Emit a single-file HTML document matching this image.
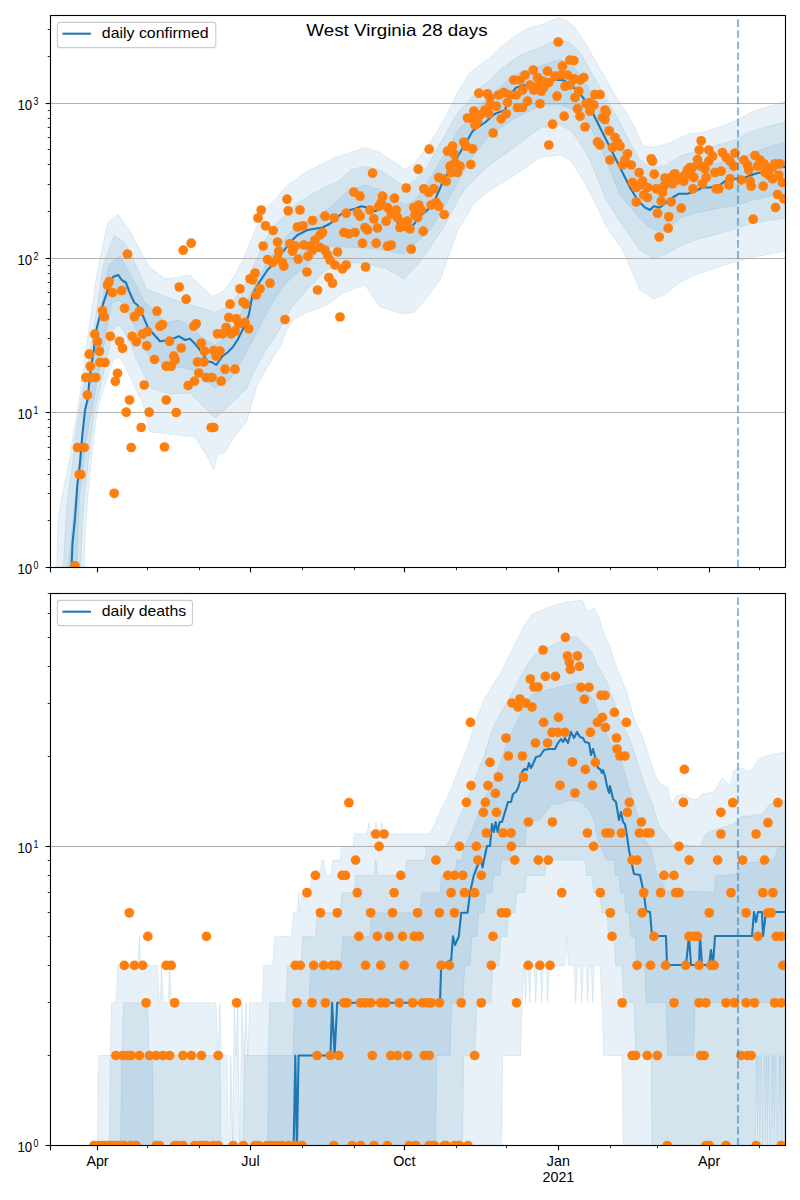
<!DOCTYPE html><html><head><meta charset="utf-8"><style>html,body{margin:0;padding:0;background:#fff;overflow:hidden}svg{display:block}</style></head><body><svg width="800" height="1200" viewBox="0 0 800 1200">
<rect width="800" height="1200" fill="#fff"/>
<clipPath id="cliptop"><rect x="50.5" y="15.5" width="735.0" height="552.0"/></clipPath>
<g clip-path="url(#cliptop)">
<polygon points="56.7,600.0 56.7,566.7 58.0,520.0 62.5,493.3 66.7,473.3 70.0,458.3 73.3,433.3 76.7,413.3 79.2,400.0 88.3,333.3 96.7,275.0 107.9,222.5 117.9,214.2 130.0,230.8 142.9,255.8 150.0,267.5 165.0,278.8 175.0,277.5 190.0,275.0 200.0,285.0 212.5,296.2 225.0,290.0 235.0,275.0 245.0,255.0 255.0,230.0 265.0,210.0 275.0,200.0 285.0,187.5 295.0,180.0 305.0,172.5 320.0,165.0 335.0,157.5 350.0,152.5 365.0,147.5 380.0,152.5 395.0,162.5 405.0,170.0 415.0,162.5 425.0,150.0 435.0,135.0 445.0,117.5 457.5,92.5 470.0,72.5 480.0,65.0 490.0,57.5 500.0,47.5 510.0,40.0 520.0,32.5 530.0,27.5 540.0,25.0 550.0,21.2 558.8,17.5 567.5,21.2 575.0,27.5 585.0,42.5 595.0,60.0 605.0,77.5 615.0,95.0 625.0,110.0 635.0,127.5 642.5,145.0 650.0,147.5 660.0,146.0 670.0,142.5 680.0,138.0 690.0,133.0 700.0,133.0 710.0,130.0 720.0,127.0 735.0,121.0 750.0,113.0 760.0,109.0 770.0,106.0 786.0,101.0 800.0,101.0 800.0,251.0 786.0,251.0 765.0,255.0 750.0,258.0 735.0,262.0 725.0,265.0 710.0,270.0 695.0,275.0 680.0,282.5 664.5,295.0 654.0,299.0 640.0,290.0 622.5,250.0 605.0,224.0 594.5,201.0 580.0,175.0 570.0,160.0 560.0,155.0 540.0,157.5 515.0,175.0 490.0,190.0 473.0,205.0 458.0,230.0 440.0,280.0 425.0,300.0 415.0,312.0 404.0,314.0 380.0,307.0 365.0,285.0 345.0,292.0 325.0,306.0 305.0,313.0 293.0,320.0 287.0,330.0 280.0,347.0 270.0,363.0 257.0,385.0 247.0,421.0 232.0,440.0 225.0,452.0 217.5,455.0 213.8,470.0 207.5,457.0 200.0,445.0 195.0,437.0 170.0,434.0 150.0,432.0 141.7,400.0 136.7,391.7 130.0,376.7 123.3,363.3 118.3,356.7 113.3,360.0 100.0,400.0 95.8,420.0 92.5,450.0 90.0,473.3 88.3,491.7 84.6,543.3 84.6,600.0" fill="#1f77b4" fill-opacity="0.1" stroke="#1f77b4" stroke-opacity="0.1" stroke-width="1"/>
<polygon points="63.3,600.0 63.3,566.7 65.8,520.0 68.3,493.3 71.7,470.0 75.8,433.3 80.0,406.7 93.3,333.3 103.3,265.0 114.2,235.4 125.0,242.9 135.0,263.3 146.7,289.2 175.0,300.0 200.0,307.5 215.0,312.5 230.0,305.0 245.0,285.0 255.0,262.5 265.0,240.0 275.0,225.0 285.0,215.0 295.0,205.0 310.0,195.0 325.0,187.5 340.0,180.0 350.0,170.0 365.0,166.2 380.0,170.0 395.0,180.0 405.0,186.2 415.0,180.0 425.0,170.0 435.0,152.5 445.0,135.0 457.5,112.5 467.5,102.5 480.0,87.5 490.0,80.0 500.0,70.0 510.0,62.5 520.0,55.0 530.0,51.2 540.0,47.5 550.0,42.5 560.0,40.0 570.0,42.5 580.0,52.5 590.0,70.0 600.0,87.5 610.0,105.0 620.0,122.5 630.0,142.5 640.0,160.0 650.0,167.5 665.0,166.0 680.0,156.0 695.0,152.0 710.0,147.0 725.0,143.0 735.0,139.5 750.0,132.0 765.0,127.0 786.0,122.0 800.0,122.0 800.0,218.0 786.0,218.0 765.0,221.0 750.0,224.0 735.0,229.0 725.0,232.0 710.0,236.0 695.0,240.0 680.0,246.0 664.5,255.0 654.0,259.0 640.0,250.0 620.0,222.0 605.0,197.5 590.0,160.0 580.0,142.5 570.0,130.0 560.0,125.0 540.0,128.0 515.0,147.0 490.0,165.0 470.0,183.0 461.0,195.0 442.0,230.0 417.5,265.0 404.0,279.0 385.0,268.0 365.0,263.5 345.0,262.0 325.0,271.0 305.0,292.0 292.0,307.0 283.0,323.0 273.0,340.0 263.0,355.0 253.0,374.0 247.0,388.0 230.0,405.0 215.0,418.0 190.0,393.0 170.0,394.0 150.0,388.0 143.3,373.0 136.7,360.0 130.0,343.0 123.3,330.0 118.3,325.0 113.3,330.0 94.2,413.3 90.8,438.3 86.7,475.0 82.5,520.0 80.8,566.7 80.8,600.0" fill="#1f77b4" fill-opacity="0.1" stroke="#1f77b4" stroke-opacity="0.1" stroke-width="1"/>
<polygon points="68.3,600.0 68.3,566.7 75.0,500.0 80.8,441.7 98.3,325.0 108.3,265.8 120.0,255.8 133.3,279.2 143.3,300.0 165.0,322.5 180.0,320.0 195.0,330.0 205.0,340.0 215.0,345.0 225.0,337.5 235.0,325.0 250.0,295.0 260.0,275.0 270.0,257.5 280.0,245.0 290.0,232.5 300.0,225.0 315.0,217.5 330.0,207.5 347.5,191.2 365.0,185.0 380.0,190.0 395.0,200.0 405.0,205.0 415.0,200.0 425.0,187.5 435.0,170.0 445.0,152.5 457.5,131.2 467.5,120.0 480.0,105.0 490.0,95.0 500.0,87.5 510.0,77.5 520.0,72.5 530.0,68.8 540.0,66.2 550.0,62.5 560.0,60.0 570.0,62.5 580.0,75.0 590.0,90.0 600.0,107.5 610.0,125.0 620.0,142.5 630.0,162.5 640.0,175.0 650.0,180.0 665.0,180.0 680.0,173.0 695.0,168.0 710.0,165.0 725.0,162.0 735.0,160.0 750.0,154.0 765.0,148.0 786.0,142.0 800.0,142.0 800.0,193.6 786.0,193.6 765.0,197.0 750.0,201.0 735.0,205.5 725.0,207.0 710.0,210.0 695.0,213.0 680.0,218.0 664.5,232.0 650.0,228.0 640.0,218.5 620.0,195.0 605.0,158.0 592.0,130.0 580.0,113.0 560.0,104.0 540.0,106.0 515.0,118.0 490.0,135.0 470.0,160.0 451.0,195.0 430.0,230.0 404.0,254.0 385.0,250.0 365.0,248.0 345.0,247.0 322.0,246.0 305.0,268.0 293.0,276.0 283.0,287.0 273.0,302.0 263.0,320.0 253.0,340.0 240.0,363.0 230.0,380.0 215.0,388.0 190.0,369.0 170.0,366.0 150.0,358.0 143.3,343.3 136.7,331.7 130.0,316.7 123.3,303.3 118.3,300.0 111.7,303.3 85.8,441.7 79.2,500.0 76.7,566.7 76.7,600.0" fill="#1f77b4" fill-opacity="0.1" stroke="#1f77b4" stroke-opacity="0.1" stroke-width="1"/>
<line x1="50.5" x2="785.5" y1="412.50" y2="412.50" stroke="#b0b0b0" stroke-width="1.0"/>
<line x1="50.5" x2="785.5" y1="258.50" y2="258.50" stroke="#b0b0b0" stroke-width="1.0"/>
<line x1="50.5" x2="785.5" y1="103.50" y2="103.50" stroke="#b0b0b0" stroke-width="1.0"/>
<polyline points="71.0,580.0 72.5,543.3 75.0,518.3 77.5,483.3 80.0,463.3 82.5,433.3 85.0,410.0 87.5,400.0 90.0,375.0 93.7,350.0 96.7,328.3 100.0,315.0 103.3,303.3 106.7,293.3 110.0,281.7 113.3,276.7 118.3,275.0 121.7,280.0 125.8,282.5 130.0,293.3 134.2,302.5 137.5,305.0 143.3,316.7 148.3,328.3 160.0,341.2 170.0,340.0 178.8,336.2 185.0,340.0 190.0,338.8 195.0,343.8 200.0,350.0 207.5,361.2 212.5,362.5 216.2,365.0 222.5,356.2 227.5,352.5 232.5,347.5 237.5,340.0 242.5,330.0 248.8,315.0 252.5,295.0 257.5,285.0 262.5,277.5 267.5,270.0 275.0,262.5 282.5,252.5 290.0,242.5 297.5,235.0 307.5,230.0 315.0,228.8 322.5,227.5 330.0,223.8 340.0,215.0 347.5,210.0 350.0,210.0 355.0,208.8 361.2,206.2 367.5,207.5 375.0,211.2 382.5,207.5 390.0,212.5 397.5,222.5 403.8,230.0 412.5,226.2 420.0,216.2 427.5,210.0 435.0,200.0 442.5,182.5 452.5,165.0 460.0,152.5 467.5,140.0 472.5,131.2 477.5,127.5 485.0,122.5 495.0,113.8 505.0,110.0 510.0,95.0 516.2,87.5 525.0,85.0 535.0,85.0 545.0,82.5 555.0,80.0 562.5,80.0 570.0,83.8 577.5,91.2 585.0,100.0 592.5,112.5 600.0,127.5 607.5,142.5 615.0,157.5 622.5,172.5 630.0,187.5 637.5,200.0 645.0,207.5 650.0,210.0 653.8,206.2 660.0,207.5 666.2,202.5 672.5,197.5 678.8,193.8 687.5,193.8 695.0,191.2 702.5,187.5 710.0,187.5 720.0,185.0 725.0,181.2 735.0,178.8 745.0,177.5 755.0,173.8 765.0,171.2 775.0,167.5 785.0,167.0" fill="none" stroke="#1f77b4" stroke-width="2.08" stroke-linejoin="round"/>
<circle cx="127.5" cy="254.2" r="4.85" fill="#ff7f0e"/>
<circle cx="109.2" cy="281.7" r="4.85" fill="#ff7f0e"/>
<circle cx="107.5" cy="285.0" r="4.85" fill="#ff7f0e"/>
<circle cx="112.5" cy="292.5" r="4.85" fill="#ff7f0e"/>
<circle cx="121.7" cy="290.5" r="4.85" fill="#ff7f0e"/>
<circle cx="102.5" cy="310.8" r="4.85" fill="#ff7f0e"/>
<circle cx="104.2" cy="316.7" r="4.85" fill="#ff7f0e"/>
<circle cx="124.5" cy="308.3" r="4.85" fill="#ff7f0e"/>
<circle cx="139.5" cy="311.3" r="4.85" fill="#ff7f0e"/>
<circle cx="134.5" cy="316.7" r="4.85" fill="#ff7f0e"/>
<circle cx="94.7" cy="334.2" r="4.85" fill="#ff7f0e"/>
<circle cx="97.5" cy="341.7" r="4.85" fill="#ff7f0e"/>
<circle cx="110.3" cy="336.3" r="4.85" fill="#ff7f0e"/>
<circle cx="119.5" cy="341.3" r="4.85" fill="#ff7f0e"/>
<circle cx="122.5" cy="348.3" r="4.85" fill="#ff7f0e"/>
<circle cx="132.2" cy="336.3" r="4.85" fill="#ff7f0e"/>
<circle cx="136.3" cy="341.7" r="4.85" fill="#ff7f0e"/>
<circle cx="142.5" cy="334.2" r="4.85" fill="#ff7f0e"/>
<circle cx="147.5" cy="331.7" r="4.85" fill="#ff7f0e"/>
<circle cx="146.7" cy="345.8" r="4.85" fill="#ff7f0e"/>
<circle cx="89.2" cy="354.2" r="4.85" fill="#ff7f0e"/>
<circle cx="99.5" cy="351.3" r="4.85" fill="#ff7f0e"/>
<circle cx="90.3" cy="366.3" r="4.85" fill="#ff7f0e"/>
<circle cx="100.0" cy="362.5" r="4.85" fill="#ff7f0e"/>
<circle cx="105.0" cy="362.5" r="4.85" fill="#ff7f0e"/>
<circle cx="85.8" cy="377.5" r="4.85" fill="#ff7f0e"/>
<circle cx="90.8" cy="377.5" r="4.85" fill="#ff7f0e"/>
<circle cx="95.8" cy="377.5" r="4.85" fill="#ff7f0e"/>
<circle cx="117.5" cy="373.3" r="4.85" fill="#ff7f0e"/>
<circle cx="115.3" cy="381.3" r="4.85" fill="#ff7f0e"/>
<circle cx="144.2" cy="385.0" r="4.85" fill="#ff7f0e"/>
<circle cx="87.5" cy="395.0" r="4.85" fill="#ff7f0e"/>
<circle cx="129.5" cy="400.0" r="4.85" fill="#ff7f0e"/>
<circle cx="75.0" cy="565.8" r="4.85" fill="#ff7f0e"/>
<circle cx="77.5" cy="447.5" r="4.85" fill="#ff7f0e"/>
<circle cx="84.2" cy="447.5" r="4.85" fill="#ff7f0e"/>
<circle cx="79.2" cy="474.5" r="4.85" fill="#ff7f0e"/>
<circle cx="80.8" cy="474.5" r="4.85" fill="#ff7f0e"/>
<circle cx="114.2" cy="493.3" r="4.85" fill="#ff7f0e"/>
<circle cx="131.2" cy="447.5" r="4.85" fill="#ff7f0e"/>
<circle cx="141.2" cy="427.5" r="4.85" fill="#ff7f0e"/>
<circle cx="126.2" cy="412.2" r="4.85" fill="#ff7f0e"/>
<circle cx="149.2" cy="412.2" r="4.85" fill="#ff7f0e"/>
<circle cx="287.0" cy="199.2" r="4.85" fill="#ff7f0e"/>
<circle cx="261.2" cy="210.0" r="4.85" fill="#ff7f0e"/>
<circle cx="258.0" cy="218.0" r="4.85" fill="#ff7f0e"/>
<circle cx="288.2" cy="210.8" r="4.85" fill="#ff7f0e"/>
<circle cx="300.0" cy="210.0" r="4.85" fill="#ff7f0e"/>
<circle cx="325.0" cy="216.2" r="4.85" fill="#ff7f0e"/>
<circle cx="334.2" cy="218.0" r="4.85" fill="#ff7f0e"/>
<circle cx="346.2" cy="213.2" r="4.85" fill="#ff7f0e"/>
<circle cx="312.5" cy="220.5" r="4.85" fill="#ff7f0e"/>
<circle cx="265.5" cy="225.8" r="4.85" fill="#ff7f0e"/>
<circle cx="273.2" cy="230.5" r="4.85" fill="#ff7f0e"/>
<circle cx="297.5" cy="227.0" r="4.85" fill="#ff7f0e"/>
<circle cx="303.0" cy="225.8" r="4.85" fill="#ff7f0e"/>
<circle cx="191.2" cy="243.2" r="4.85" fill="#ff7f0e"/>
<circle cx="183.2" cy="250.2" r="4.85" fill="#ff7f0e"/>
<circle cx="263.2" cy="246.0" r="4.85" fill="#ff7f0e"/>
<circle cx="277.5" cy="242.0" r="4.85" fill="#ff7f0e"/>
<circle cx="278.8" cy="251.2" r="4.85" fill="#ff7f0e"/>
<circle cx="290.0" cy="243.8" r="4.85" fill="#ff7f0e"/>
<circle cx="295.0" cy="246.2" r="4.85" fill="#ff7f0e"/>
<circle cx="292.5" cy="251.2" r="4.85" fill="#ff7f0e"/>
<circle cx="303.8" cy="245.0" r="4.85" fill="#ff7f0e"/>
<circle cx="310.0" cy="246.2" r="4.85" fill="#ff7f0e"/>
<circle cx="315.0" cy="240.0" r="4.85" fill="#ff7f0e"/>
<circle cx="320.0" cy="235.0" r="4.85" fill="#ff7f0e"/>
<circle cx="322.5" cy="232.5" r="4.85" fill="#ff7f0e"/>
<circle cx="312.5" cy="250.0" r="4.85" fill="#ff7f0e"/>
<circle cx="320.0" cy="247.5" r="4.85" fill="#ff7f0e"/>
<circle cx="325.0" cy="250.0" r="4.85" fill="#ff7f0e"/>
<circle cx="327.5" cy="255.0" r="4.85" fill="#ff7f0e"/>
<circle cx="337.5" cy="252.0" r="4.85" fill="#ff7f0e"/>
<circle cx="343.8" cy="232.5" r="4.85" fill="#ff7f0e"/>
<circle cx="348.8" cy="233.8" r="4.85" fill="#ff7f0e"/>
<circle cx="267.5" cy="259.5" r="4.85" fill="#ff7f0e"/>
<circle cx="272.5" cy="262.5" r="4.85" fill="#ff7f0e"/>
<circle cx="277.5" cy="258.8" r="4.85" fill="#ff7f0e"/>
<circle cx="282.5" cy="262.5" r="4.85" fill="#ff7f0e"/>
<circle cx="283.8" cy="266.2" r="4.85" fill="#ff7f0e"/>
<circle cx="298.2" cy="259.2" r="4.85" fill="#ff7f0e"/>
<circle cx="308.0" cy="256.2" r="4.85" fill="#ff7f0e"/>
<circle cx="330.0" cy="260.0" r="4.85" fill="#ff7f0e"/>
<circle cx="335.0" cy="265.0" r="4.85" fill="#ff7f0e"/>
<circle cx="342.5" cy="268.8" r="4.85" fill="#ff7f0e"/>
<circle cx="346.2" cy="265.0" r="4.85" fill="#ff7f0e"/>
<circle cx="307.0" cy="272.0" r="4.85" fill="#ff7f0e"/>
<circle cx="255.0" cy="273.0" r="4.85" fill="#ff7f0e"/>
<circle cx="250.0" cy="278.8" r="4.85" fill="#ff7f0e"/>
<circle cx="252.5" cy="280.0" r="4.85" fill="#ff7f0e"/>
<circle cx="270.0" cy="283.2" r="4.85" fill="#ff7f0e"/>
<circle cx="328.8" cy="277.5" r="4.85" fill="#ff7f0e"/>
<circle cx="332.5" cy="283.2" r="4.85" fill="#ff7f0e"/>
<circle cx="317.5" cy="290.0" r="4.85" fill="#ff7f0e"/>
<circle cx="179.2" cy="287.0" r="4.85" fill="#ff7f0e"/>
<circle cx="186.2" cy="299.2" r="4.85" fill="#ff7f0e"/>
<circle cx="240.0" cy="288.8" r="4.85" fill="#ff7f0e"/>
<circle cx="260.0" cy="288.8" r="4.85" fill="#ff7f0e"/>
<circle cx="256.2" cy="295.0" r="4.85" fill="#ff7f0e"/>
<circle cx="230.0" cy="304.2" r="4.85" fill="#ff7f0e"/>
<circle cx="243.0" cy="302.0" r="4.85" fill="#ff7f0e"/>
<circle cx="245.5" cy="304.2" r="4.85" fill="#ff7f0e"/>
<circle cx="157.0" cy="311.2" r="4.85" fill="#ff7f0e"/>
<circle cx="160.0" cy="326.2" r="4.85" fill="#ff7f0e"/>
<circle cx="162.5" cy="324.5" r="4.85" fill="#ff7f0e"/>
<circle cx="193.8" cy="326.2" r="4.85" fill="#ff7f0e"/>
<circle cx="196.2" cy="323.8" r="4.85" fill="#ff7f0e"/>
<circle cx="169.5" cy="341.2" r="4.85" fill="#ff7f0e"/>
<circle cx="181.2" cy="348.0" r="4.85" fill="#ff7f0e"/>
<circle cx="201.2" cy="343.0" r="4.85" fill="#ff7f0e"/>
<circle cx="204.5" cy="351.2" r="4.85" fill="#ff7f0e"/>
<circle cx="213.8" cy="350.5" r="4.85" fill="#ff7f0e"/>
<circle cx="220.0" cy="351.2" r="4.85" fill="#ff7f0e"/>
<circle cx="216.2" cy="356.2" r="4.85" fill="#ff7f0e"/>
<circle cx="154.5" cy="359.5" r="4.85" fill="#ff7f0e"/>
<circle cx="173.8" cy="356.2" r="4.85" fill="#ff7f0e"/>
<circle cx="175.0" cy="360.0" r="4.85" fill="#ff7f0e"/>
<circle cx="166.2" cy="366.2" r="4.85" fill="#ff7f0e"/>
<circle cx="171.2" cy="366.2" r="4.85" fill="#ff7f0e"/>
<circle cx="197.5" cy="362.0" r="4.85" fill="#ff7f0e"/>
<circle cx="203.8" cy="362.0" r="4.85" fill="#ff7f0e"/>
<circle cx="225.0" cy="369.2" r="4.85" fill="#ff7f0e"/>
<circle cx="235.0" cy="369.2" r="4.85" fill="#ff7f0e"/>
<circle cx="198.8" cy="373.0" r="4.85" fill="#ff7f0e"/>
<circle cx="206.2" cy="377.5" r="4.85" fill="#ff7f0e"/>
<circle cx="212.0" cy="377.5" r="4.85" fill="#ff7f0e"/>
<circle cx="194.5" cy="381.2" r="4.85" fill="#ff7f0e"/>
<circle cx="188.2" cy="385.5" r="4.85" fill="#ff7f0e"/>
<circle cx="221.2" cy="381.2" r="4.85" fill="#ff7f0e"/>
<circle cx="166.2" cy="400.0" r="4.85" fill="#ff7f0e"/>
<circle cx="176.2" cy="412.5" r="4.85" fill="#ff7f0e"/>
<circle cx="211.2" cy="427.5" r="4.85" fill="#ff7f0e"/>
<circle cx="213.8" cy="427.5" r="4.85" fill="#ff7f0e"/>
<circle cx="164.5" cy="447.0" r="4.85" fill="#ff7f0e"/>
<circle cx="217.5" cy="333.8" r="4.85" fill="#ff7f0e"/>
<circle cx="222.5" cy="333.8" r="4.85" fill="#ff7f0e"/>
<circle cx="226.2" cy="327.5" r="4.85" fill="#ff7f0e"/>
<circle cx="231.2" cy="333.8" r="4.85" fill="#ff7f0e"/>
<circle cx="235.0" cy="331.2" r="4.85" fill="#ff7f0e"/>
<circle cx="228.8" cy="317.5" r="4.85" fill="#ff7f0e"/>
<circle cx="236.2" cy="318.8" r="4.85" fill="#ff7f0e"/>
<circle cx="238.8" cy="323.8" r="4.85" fill="#ff7f0e"/>
<circle cx="245.0" cy="322.5" r="4.85" fill="#ff7f0e"/>
<circle cx="248.8" cy="328.8" r="4.85" fill="#ff7f0e"/>
<circle cx="285.0" cy="319.5" r="4.85" fill="#ff7f0e"/>
<circle cx="340.0" cy="317.0" r="4.85" fill="#ff7f0e"/>
<circle cx="429.2" cy="149.2" r="4.85" fill="#ff7f0e"/>
<circle cx="418.2" cy="169.2" r="4.85" fill="#ff7f0e"/>
<circle cx="372.5" cy="173.2" r="4.85" fill="#ff7f0e"/>
<circle cx="406.2" cy="188.0" r="4.85" fill="#ff7f0e"/>
<circle cx="353.8" cy="192.0" r="4.85" fill="#ff7f0e"/>
<circle cx="360.0" cy="196.2" r="4.85" fill="#ff7f0e"/>
<circle cx="382.5" cy="196.2" r="4.85" fill="#ff7f0e"/>
<circle cx="381.2" cy="202.5" r="4.85" fill="#ff7f0e"/>
<circle cx="378.8" cy="206.2" r="4.85" fill="#ff7f0e"/>
<circle cx="394.5" cy="198.2" r="4.85" fill="#ff7f0e"/>
<circle cx="370.0" cy="210.0" r="4.85" fill="#ff7f0e"/>
<circle cx="357.5" cy="212.5" r="4.85" fill="#ff7f0e"/>
<circle cx="360.0" cy="216.2" r="4.85" fill="#ff7f0e"/>
<circle cx="387.5" cy="207.5" r="4.85" fill="#ff7f0e"/>
<circle cx="396.2" cy="210.0" r="4.85" fill="#ff7f0e"/>
<circle cx="391.2" cy="213.8" r="4.85" fill="#ff7f0e"/>
<circle cx="373.8" cy="218.8" r="4.85" fill="#ff7f0e"/>
<circle cx="377.5" cy="228.0" r="4.85" fill="#ff7f0e"/>
<circle cx="365.0" cy="227.5" r="4.85" fill="#ff7f0e"/>
<circle cx="367.5" cy="230.0" r="4.85" fill="#ff7f0e"/>
<circle cx="355.0" cy="232.5" r="4.85" fill="#ff7f0e"/>
<circle cx="386.2" cy="221.2" r="4.85" fill="#ff7f0e"/>
<circle cx="397.5" cy="217.5" r="4.85" fill="#ff7f0e"/>
<circle cx="402.5" cy="222.5" r="4.85" fill="#ff7f0e"/>
<circle cx="400.0" cy="227.5" r="4.85" fill="#ff7f0e"/>
<circle cx="403.8" cy="226.2" r="4.85" fill="#ff7f0e"/>
<circle cx="407.5" cy="221.2" r="4.85" fill="#ff7f0e"/>
<circle cx="410.0" cy="228.8" r="4.85" fill="#ff7f0e"/>
<circle cx="413.8" cy="207.5" r="4.85" fill="#ff7f0e"/>
<circle cx="418.8" cy="205.0" r="4.85" fill="#ff7f0e"/>
<circle cx="421.2" cy="210.0" r="4.85" fill="#ff7f0e"/>
<circle cx="415.0" cy="215.0" r="4.85" fill="#ff7f0e"/>
<circle cx="417.5" cy="217.5" r="4.85" fill="#ff7f0e"/>
<circle cx="423.8" cy="188.8" r="4.85" fill="#ff7f0e"/>
<circle cx="428.8" cy="192.5" r="4.85" fill="#ff7f0e"/>
<circle cx="433.8" cy="188.8" r="4.85" fill="#ff7f0e"/>
<circle cx="431.2" cy="205.0" r="4.85" fill="#ff7f0e"/>
<circle cx="436.2" cy="202.5" r="4.85" fill="#ff7f0e"/>
<circle cx="438.8" cy="206.2" r="4.85" fill="#ff7f0e"/>
<circle cx="444.2" cy="214.5" r="4.85" fill="#ff7f0e"/>
<circle cx="423.2" cy="231.2" r="4.85" fill="#ff7f0e"/>
<circle cx="362.5" cy="243.2" r="4.85" fill="#ff7f0e"/>
<circle cx="376.2" cy="243.2" r="4.85" fill="#ff7f0e"/>
<circle cx="387.5" cy="246.2" r="4.85" fill="#ff7f0e"/>
<circle cx="391.2" cy="245.0" r="4.85" fill="#ff7f0e"/>
<circle cx="411.2" cy="249.2" r="4.85" fill="#ff7f0e"/>
<circle cx="365.5" cy="267.0" r="4.85" fill="#ff7f0e"/>
<circle cx="438.8" cy="177.5" r="4.85" fill="#ff7f0e"/>
<circle cx="442.5" cy="178.8" r="4.85" fill="#ff7f0e"/>
<circle cx="446.2" cy="181.2" r="4.85" fill="#ff7f0e"/>
<circle cx="447.5" cy="151.2" r="4.85" fill="#ff7f0e"/>
<circle cx="452.5" cy="146.2" r="4.85" fill="#ff7f0e"/>
<circle cx="453.8" cy="153.8" r="4.85" fill="#ff7f0e"/>
<circle cx="450.0" cy="166.2" r="4.85" fill="#ff7f0e"/>
<circle cx="455.0" cy="162.5" r="4.85" fill="#ff7f0e"/>
<circle cx="460.0" cy="166.2" r="4.85" fill="#ff7f0e"/>
<circle cx="457.5" cy="172.5" r="4.85" fill="#ff7f0e"/>
<circle cx="451.2" cy="172.5" r="4.85" fill="#ff7f0e"/>
<circle cx="470.8" cy="164.5" r="4.85" fill="#ff7f0e"/>
<circle cx="463.8" cy="142.0" r="4.85" fill="#ff7f0e"/>
<circle cx="466.2" cy="146.2" r="4.85" fill="#ff7f0e"/>
<circle cx="472.5" cy="148.8" r="4.85" fill="#ff7f0e"/>
<circle cx="493.2" cy="133.0" r="4.85" fill="#ff7f0e"/>
<circle cx="475.0" cy="125.0" r="4.85" fill="#ff7f0e"/>
<circle cx="477.5" cy="121.2" r="4.85" fill="#ff7f0e"/>
<circle cx="472.5" cy="118.8" r="4.85" fill="#ff7f0e"/>
<circle cx="467.5" cy="118.0" r="4.85" fill="#ff7f0e"/>
<circle cx="480.0" cy="115.0" r="4.85" fill="#ff7f0e"/>
<circle cx="485.0" cy="110.0" r="4.85" fill="#ff7f0e"/>
<circle cx="488.8" cy="113.8" r="4.85" fill="#ff7f0e"/>
<circle cx="473.8" cy="111.2" r="4.85" fill="#ff7f0e"/>
<circle cx="490.0" cy="105.0" r="4.85" fill="#ff7f0e"/>
<circle cx="496.2" cy="106.2" r="4.85" fill="#ff7f0e"/>
<circle cx="501.2" cy="118.8" r="4.85" fill="#ff7f0e"/>
<circle cx="506.2" cy="113.8" r="4.85" fill="#ff7f0e"/>
<circle cx="507.5" cy="102.5" r="4.85" fill="#ff7f0e"/>
<circle cx="517.5" cy="107.5" r="4.85" fill="#ff7f0e"/>
<circle cx="522.5" cy="107.5" r="4.85" fill="#ff7f0e"/>
<circle cx="527.5" cy="101.2" r="4.85" fill="#ff7f0e"/>
<circle cx="540.0" cy="103.8" r="4.85" fill="#ff7f0e"/>
<circle cx="548.8" cy="145.0" r="4.85" fill="#ff7f0e"/>
<circle cx="478.8" cy="93.2" r="4.85" fill="#ff7f0e"/>
<circle cx="487.5" cy="93.8" r="4.85" fill="#ff7f0e"/>
<circle cx="490.0" cy="97.5" r="4.85" fill="#ff7f0e"/>
<circle cx="498.8" cy="95.0" r="4.85" fill="#ff7f0e"/>
<circle cx="503.8" cy="92.5" r="4.85" fill="#ff7f0e"/>
<circle cx="510.0" cy="95.0" r="4.85" fill="#ff7f0e"/>
<circle cx="516.2" cy="95.0" r="4.85" fill="#ff7f0e"/>
<circle cx="513.8" cy="80.0" r="4.85" fill="#ff7f0e"/>
<circle cx="520.0" cy="80.0" r="4.85" fill="#ff7f0e"/>
<circle cx="525.0" cy="75.0" r="4.85" fill="#ff7f0e"/>
<circle cx="533.2" cy="70.0" r="4.85" fill="#ff7f0e"/>
<circle cx="537.5" cy="77.5" r="4.85" fill="#ff7f0e"/>
<circle cx="542.5" cy="81.2" r="4.85" fill="#ff7f0e"/>
<circle cx="547.5" cy="71.2" r="4.85" fill="#ff7f0e"/>
<circle cx="522.5" cy="90.0" r="4.85" fill="#ff7f0e"/>
<circle cx="530.0" cy="85.0" r="4.85" fill="#ff7f0e"/>
<circle cx="533.8" cy="90.0" r="4.85" fill="#ff7f0e"/>
<circle cx="537.5" cy="86.2" r="4.85" fill="#ff7f0e"/>
<circle cx="541.2" cy="91.2" r="4.85" fill="#ff7f0e"/>
<circle cx="543.8" cy="87.5" r="4.85" fill="#ff7f0e"/>
<circle cx="548.8" cy="82.5" r="4.85" fill="#ff7f0e"/>
<circle cx="558.2" cy="42.0" r="4.85" fill="#ff7f0e"/>
<circle cx="562.5" cy="66.2" r="4.85" fill="#ff7f0e"/>
<circle cx="570.0" cy="60.0" r="4.85" fill="#ff7f0e"/>
<circle cx="573.8" cy="60.5" r="4.85" fill="#ff7f0e"/>
<circle cx="555.0" cy="76.2" r="4.85" fill="#ff7f0e"/>
<circle cx="561.2" cy="75.0" r="4.85" fill="#ff7f0e"/>
<circle cx="567.5" cy="75.0" r="4.85" fill="#ff7f0e"/>
<circle cx="573.8" cy="78.8" r="4.85" fill="#ff7f0e"/>
<circle cx="580.0" cy="80.0" r="4.85" fill="#ff7f0e"/>
<circle cx="583.8" cy="77.5" r="4.85" fill="#ff7f0e"/>
<circle cx="565.0" cy="86.2" r="4.85" fill="#ff7f0e"/>
<circle cx="570.0" cy="85.0" r="4.85" fill="#ff7f0e"/>
<circle cx="557.0" cy="96.2" r="4.85" fill="#ff7f0e"/>
<circle cx="575.0" cy="97.5" r="4.85" fill="#ff7f0e"/>
<circle cx="578.8" cy="91.2" r="4.85" fill="#ff7f0e"/>
<circle cx="577.5" cy="108.8" r="4.85" fill="#ff7f0e"/>
<circle cx="580.0" cy="116.2" r="4.85" fill="#ff7f0e"/>
<circle cx="564.2" cy="116.2" r="4.85" fill="#ff7f0e"/>
<circle cx="552.5" cy="124.2" r="4.85" fill="#ff7f0e"/>
<circle cx="585.0" cy="127.0" r="4.85" fill="#ff7f0e"/>
<circle cx="586.2" cy="103.8" r="4.85" fill="#ff7f0e"/>
<circle cx="590.0" cy="102.5" r="4.85" fill="#ff7f0e"/>
<circle cx="593.8" cy="105.0" r="4.85" fill="#ff7f0e"/>
<circle cx="590.0" cy="111.2" r="4.85" fill="#ff7f0e"/>
<circle cx="595.0" cy="94.5" r="4.85" fill="#ff7f0e"/>
<circle cx="600.0" cy="94.5" r="4.85" fill="#ff7f0e"/>
<circle cx="605.0" cy="110.0" r="4.85" fill="#ff7f0e"/>
<circle cx="606.2" cy="112.5" r="4.85" fill="#ff7f0e"/>
<circle cx="602.5" cy="117.5" r="4.85" fill="#ff7f0e"/>
<circle cx="605.0" cy="119.5" r="4.85" fill="#ff7f0e"/>
<circle cx="609.2" cy="130.8" r="4.85" fill="#ff7f0e"/>
<circle cx="597.5" cy="142.0" r="4.85" fill="#ff7f0e"/>
<circle cx="600.0" cy="145.0" r="4.85" fill="#ff7f0e"/>
<circle cx="615.0" cy="137.5" r="4.85" fill="#ff7f0e"/>
<circle cx="617.5" cy="142.5" r="4.85" fill="#ff7f0e"/>
<circle cx="612.5" cy="147.5" r="4.85" fill="#ff7f0e"/>
<circle cx="620.0" cy="146.2" r="4.85" fill="#ff7f0e"/>
<circle cx="610.0" cy="160.0" r="4.85" fill="#ff7f0e"/>
<circle cx="627.5" cy="153.8" r="4.85" fill="#ff7f0e"/>
<circle cx="625.0" cy="160.0" r="4.85" fill="#ff7f0e"/>
<circle cx="622.5" cy="165.0" r="4.85" fill="#ff7f0e"/>
<circle cx="631.2" cy="165.0" r="4.85" fill="#ff7f0e"/>
<circle cx="639.2" cy="172.5" r="4.85" fill="#ff7f0e"/>
<circle cx="632.5" cy="182.5" r="4.85" fill="#ff7f0e"/>
<circle cx="640.0" cy="185.0" r="4.85" fill="#ff7f0e"/>
<circle cx="636.2" cy="187.5" r="4.85" fill="#ff7f0e"/>
<circle cx="642.5" cy="181.2" r="4.85" fill="#ff7f0e"/>
<circle cx="647.5" cy="187.5" r="4.85" fill="#ff7f0e"/>
<circle cx="643.8" cy="195.0" r="4.85" fill="#ff7f0e"/>
<circle cx="647.5" cy="197.5" r="4.85" fill="#ff7f0e"/>
<circle cx="636.2" cy="202.0" r="4.85" fill="#ff7f0e"/>
<circle cx="651.2" cy="158.8" r="4.85" fill="#ff7f0e"/>
<circle cx="652.5" cy="161.2" r="4.85" fill="#ff7f0e"/>
<circle cx="654.2" cy="174.2" r="4.85" fill="#ff7f0e"/>
<circle cx="665.0" cy="178.0" r="4.85" fill="#ff7f0e"/>
<circle cx="672.5" cy="176.2" r="4.85" fill="#ff7f0e"/>
<circle cx="675.0" cy="173.8" r="4.85" fill="#ff7f0e"/>
<circle cx="677.5" cy="180.0" r="4.85" fill="#ff7f0e"/>
<circle cx="672.5" cy="183.8" r="4.85" fill="#ff7f0e"/>
<circle cx="681.2" cy="177.5" r="4.85" fill="#ff7f0e"/>
<circle cx="685.0" cy="175.0" r="4.85" fill="#ff7f0e"/>
<circle cx="687.5" cy="170.0" r="4.85" fill="#ff7f0e"/>
<circle cx="690.0" cy="167.5" r="4.85" fill="#ff7f0e"/>
<circle cx="683.8" cy="181.2" r="4.85" fill="#ff7f0e"/>
<circle cx="656.2" cy="188.8" r="4.85" fill="#ff7f0e"/>
<circle cx="663.8" cy="186.2" r="4.85" fill="#ff7f0e"/>
<circle cx="662.5" cy="192.5" r="4.85" fill="#ff7f0e"/>
<circle cx="661.2" cy="201.2" r="4.85" fill="#ff7f0e"/>
<circle cx="671.2" cy="201.8" r="4.85" fill="#ff7f0e"/>
<circle cx="657.5" cy="213.2" r="4.85" fill="#ff7f0e"/>
<circle cx="681.2" cy="208.2" r="4.85" fill="#ff7f0e"/>
<circle cx="668.8" cy="216.8" r="4.85" fill="#ff7f0e"/>
<circle cx="668.2" cy="228.2" r="4.85" fill="#ff7f0e"/>
<circle cx="659.2" cy="237.0" r="4.85" fill="#ff7f0e"/>
<circle cx="692.5" cy="167.5" r="4.85" fill="#ff7f0e"/>
<circle cx="693.8" cy="177.5" r="4.85" fill="#ff7f0e"/>
<circle cx="691.2" cy="175.0" r="4.85" fill="#ff7f0e"/>
<circle cx="701.2" cy="140.8" r="4.85" fill="#ff7f0e"/>
<circle cx="699.2" cy="150.0" r="4.85" fill="#ff7f0e"/>
<circle cx="708.8" cy="150.0" r="4.85" fill="#ff7f0e"/>
<circle cx="712.5" cy="156.2" r="4.85" fill="#ff7f0e"/>
<circle cx="697.5" cy="159.5" r="4.85" fill="#ff7f0e"/>
<circle cx="701.2" cy="166.2" r="4.85" fill="#ff7f0e"/>
<circle cx="705.0" cy="168.8" r="4.85" fill="#ff7f0e"/>
<circle cx="708.8" cy="161.2" r="4.85" fill="#ff7f0e"/>
<circle cx="693.0" cy="188.8" r="4.85" fill="#ff7f0e"/>
<circle cx="702.5" cy="183.8" r="4.85" fill="#ff7f0e"/>
<circle cx="706.2" cy="177.5" r="4.85" fill="#ff7f0e"/>
<circle cx="715.0" cy="172.5" r="4.85" fill="#ff7f0e"/>
<circle cx="721.2" cy="171.2" r="4.85" fill="#ff7f0e"/>
<circle cx="716.2" cy="188.8" r="4.85" fill="#ff7f0e"/>
<circle cx="718.8" cy="188.8" r="4.85" fill="#ff7f0e"/>
<circle cx="722.5" cy="152.5" r="4.85" fill="#ff7f0e"/>
<circle cx="726.2" cy="157.5" r="4.85" fill="#ff7f0e"/>
<circle cx="730.0" cy="161.2" r="4.85" fill="#ff7f0e"/>
<circle cx="733.8" cy="166.2" r="4.85" fill="#ff7f0e"/>
<circle cx="735.0" cy="153.0" r="4.85" fill="#ff7f0e"/>
<circle cx="730.0" cy="178.8" r="4.85" fill="#ff7f0e"/>
<circle cx="728.8" cy="185.0" r="4.85" fill="#ff7f0e"/>
<circle cx="741.2" cy="180.0" r="4.85" fill="#ff7f0e"/>
<circle cx="743.8" cy="160.0" r="4.85" fill="#ff7f0e"/>
<circle cx="747.5" cy="165.0" r="4.85" fill="#ff7f0e"/>
<circle cx="748.8" cy="170.0" r="4.85" fill="#ff7f0e"/>
<circle cx="750.0" cy="181.2" r="4.85" fill="#ff7f0e"/>
<circle cx="751.2" cy="186.2" r="4.85" fill="#ff7f0e"/>
<circle cx="755.0" cy="155.5" r="4.85" fill="#ff7f0e"/>
<circle cx="760.0" cy="160.0" r="4.85" fill="#ff7f0e"/>
<circle cx="757.5" cy="166.2" r="4.85" fill="#ff7f0e"/>
<circle cx="763.8" cy="163.8" r="4.85" fill="#ff7f0e"/>
<circle cx="767.5" cy="167.5" r="4.85" fill="#ff7f0e"/>
<circle cx="765.0" cy="172.5" r="4.85" fill="#ff7f0e"/>
<circle cx="772.5" cy="167.5" r="4.85" fill="#ff7f0e"/>
<circle cx="768.8" cy="175.0" r="4.85" fill="#ff7f0e"/>
<circle cx="775.0" cy="163.8" r="4.85" fill="#ff7f0e"/>
<circle cx="780.0" cy="163.8" r="4.85" fill="#ff7f0e"/>
<circle cx="772.5" cy="178.8" r="4.85" fill="#ff7f0e"/>
<circle cx="778.8" cy="175.0" r="4.85" fill="#ff7f0e"/>
<circle cx="782.5" cy="182.5" r="4.85" fill="#ff7f0e"/>
<circle cx="763.2" cy="186.2" r="4.85" fill="#ff7f0e"/>
<circle cx="777.5" cy="194.5" r="4.85" fill="#ff7f0e"/>
<circle cx="783.8" cy="198.8" r="4.85" fill="#ff7f0e"/>
<circle cx="775.5" cy="207.5" r="4.85" fill="#ff7f0e"/>
<circle cx="753.2" cy="219.2" r="4.85" fill="#ff7f0e"/>
<line x1="738" x2="738" y1="567.5" y2="15.5" stroke="#1f77b4" stroke-opacity="0.5" stroke-width="2.08" stroke-dasharray="7.7 3.33"/>
</g>
<rect x="50.5" y="15.5" width="735.0" height="552.0" fill="none" stroke="#000" stroke-width="1.11"/>
<line x1="45.64" x2="50.5" y1="567.50" y2="567.50" stroke="#000" stroke-width="1.11"/>
<line x1="47.72" x2="50.5" y1="520.50" y2="520.50" stroke="#000" stroke-width="0.83"/>
<line x1="47.72" x2="50.5" y1="493.50" y2="493.50" stroke="#000" stroke-width="0.83"/>
<line x1="47.72" x2="50.5" y1="474.50" y2="474.50" stroke="#000" stroke-width="0.83"/>
<line x1="47.72" x2="50.5" y1="459.50" y2="459.50" stroke="#000" stroke-width="0.83"/>
<line x1="47.72" x2="50.5" y1="447.50" y2="447.50" stroke="#000" stroke-width="0.83"/>
<line x1="47.72" x2="50.5" y1="436.50" y2="436.50" stroke="#000" stroke-width="0.83"/>
<line x1="47.72" x2="50.5" y1="427.50" y2="427.50" stroke="#000" stroke-width="0.83"/>
<line x1="47.72" x2="50.5" y1="419.50" y2="419.50" stroke="#000" stroke-width="0.83"/>
<line x1="45.64" x2="50.5" y1="412.50" y2="412.50" stroke="#000" stroke-width="1.11"/>
<line x1="47.72" x2="50.5" y1="366.50" y2="366.50" stroke="#000" stroke-width="0.83"/>
<line x1="47.72" x2="50.5" y1="338.50" y2="338.50" stroke="#000" stroke-width="0.83"/>
<line x1="47.72" x2="50.5" y1="319.50" y2="319.50" stroke="#000" stroke-width="0.83"/>
<line x1="47.72" x2="50.5" y1="304.50" y2="304.50" stroke="#000" stroke-width="0.83"/>
<line x1="47.72" x2="50.5" y1="292.50" y2="292.50" stroke="#000" stroke-width="0.83"/>
<line x1="47.72" x2="50.5" y1="282.50" y2="282.50" stroke="#000" stroke-width="0.83"/>
<line x1="47.72" x2="50.5" y1="273.50" y2="273.50" stroke="#000" stroke-width="0.83"/>
<line x1="47.72" x2="50.5" y1="265.50" y2="265.50" stroke="#000" stroke-width="0.83"/>
<line x1="45.64" x2="50.5" y1="258.50" y2="258.50" stroke="#000" stroke-width="1.11"/>
<line x1="47.72" x2="50.5" y1="211.50" y2="211.50" stroke="#000" stroke-width="0.83"/>
<line x1="47.72" x2="50.5" y1="184.50" y2="184.50" stroke="#000" stroke-width="0.83"/>
<line x1="47.72" x2="50.5" y1="164.50" y2="164.50" stroke="#000" stroke-width="0.83"/>
<line x1="47.72" x2="50.5" y1="149.50" y2="149.50" stroke="#000" stroke-width="0.83"/>
<line x1="47.72" x2="50.5" y1="137.50" y2="137.50" stroke="#000" stroke-width="0.83"/>
<line x1="47.72" x2="50.5" y1="127.50" y2="127.50" stroke="#000" stroke-width="0.83"/>
<line x1="47.72" x2="50.5" y1="118.50" y2="118.50" stroke="#000" stroke-width="0.83"/>
<line x1="47.72" x2="50.5" y1="110.50" y2="110.50" stroke="#000" stroke-width="0.83"/>
<line x1="45.64" x2="50.5" y1="103.50" y2="103.50" stroke="#000" stroke-width="1.11"/>
<line x1="47.72" x2="50.5" y1="56.50" y2="56.50" stroke="#000" stroke-width="0.83"/>
<line x1="47.72" x2="50.5" y1="29.50" y2="29.50" stroke="#000" stroke-width="0.83"/>
<text x="17.5" y="574.20" font-family="Liberation Sans, sans-serif" font-size="14.5" textLength="14.7" lengthAdjust="spacingAndGlyphs">10</text>
<text x="33.6" y="569.00" font-family="Liberation Sans, sans-serif" font-size="10.4" textLength="4.9" lengthAdjust="spacingAndGlyphs">0</text>
<text x="17.5" y="419.47" font-family="Liberation Sans, sans-serif" font-size="14.5" textLength="14.7" lengthAdjust="spacingAndGlyphs">10</text>
<text x="33.6" y="414.27" font-family="Liberation Sans, sans-serif" font-size="10.4" textLength="4.9" lengthAdjust="spacingAndGlyphs">1</text>
<text x="17.5" y="264.74" font-family="Liberation Sans, sans-serif" font-size="14.5" textLength="14.7" lengthAdjust="spacingAndGlyphs">10</text>
<text x="33.6" y="259.54" font-family="Liberation Sans, sans-serif" font-size="10.4" textLength="4.9" lengthAdjust="spacingAndGlyphs">2</text>
<text x="17.5" y="110.01" font-family="Liberation Sans, sans-serif" font-size="14.5" textLength="14.7" lengthAdjust="spacingAndGlyphs">10</text>
<text x="33.6" y="104.81" font-family="Liberation Sans, sans-serif" font-size="10.4" textLength="4.9" lengthAdjust="spacingAndGlyphs">3</text>
<line x1="50.5" x2="50.5" y1="567.5" y2="572.36" stroke="#000" stroke-width="1.11"/>
<line x1="97.5" x2="97.5" y1="567.5" y2="572.36" stroke="#000" stroke-width="1.11"/>
<line x1="250.5" x2="250.5" y1="567.5" y2="572.36" stroke="#000" stroke-width="1.11"/>
<line x1="404.5" x2="404.5" y1="567.5" y2="572.36" stroke="#000" stroke-width="1.11"/>
<line x1="558.5" x2="558.5" y1="567.5" y2="572.36" stroke="#000" stroke-width="1.11"/>
<line x1="709.5" x2="709.5" y1="567.5" y2="572.36" stroke="#000" stroke-width="1.11"/>
<line x1="147.5" x2="147.5" y1="567.5" y2="570.28" stroke="#000" stroke-width="0.83"/>
<line x1="199.5" x2="199.5" y1="567.5" y2="570.28" stroke="#000" stroke-width="0.83"/>
<line x1="302.5" x2="302.5" y1="567.5" y2="570.28" stroke="#000" stroke-width="0.83"/>
<line x1="354.5" x2="354.5" y1="567.5" y2="570.28" stroke="#000" stroke-width="0.83"/>
<line x1="456.5" x2="456.5" y1="567.5" y2="570.28" stroke="#000" stroke-width="0.83"/>
<line x1="506.5" x2="506.5" y1="567.5" y2="570.28" stroke="#000" stroke-width="0.83"/>
<line x1="610.5" x2="610.5" y1="567.5" y2="570.28" stroke="#000" stroke-width="0.83"/>
<line x1="657.5" x2="657.5" y1="567.5" y2="570.28" stroke="#000" stroke-width="0.83"/>
<line x1="759.5" x2="759.5" y1="567.5" y2="570.28" stroke="#000" stroke-width="0.83"/>
<rect x="57.4" y="22.40" width="158.4" height="25.2" rx="2.8" fill="#fff" fill-opacity="0.8" stroke="#cccccc" stroke-width="1.11"/>
<line x1="62.4" x2="91" y1="33.70" y2="33.70" stroke="#1f77b4" stroke-width="2.08"/>
<text x="101.8" y="38.20" font-family="Liberation Sans, sans-serif" font-size="14.3" textLength="106.9" lengthAdjust="spacingAndGlyphs">daily confirmed</text>
<clipPath id="clipbot"><rect x="50.5" y="593.5" width="735.0" height="552.0"/></clipPath>
<g clip-path="url(#clipbot)">
<polygon points="40.0,1200.0 96.8,1200.0 98.4,1055.5 110.0,1055.5 111.7,1002.8 116.0,1002.8 117.7,965.4 136.0,965.4 137.7,965.4 137.7,965.4 139.4,936.4 139.4,936.4 141.0,965.4 157.5,965.4 159.2,1002.8 160.0,1002.8 161.7,965.4 161.7,965.4 163.4,1002.8 168.0,1002.8 169.7,965.4 169.7,965.4 171.4,1002.8 216.0,1002.8 217.7,1055.5 218.0,1055.5 219.7,1002.8 219.7,1002.8 221.4,1055.5 227.0,1055.5 228.7,1200.0 228.7,1200.0 230.4,1055.5 231.0,1055.5 232.7,1145.5 232.7,1145.5 234.4,1002.8 234.4,1002.8 236.0,1055.5 236.0,1055.5 237.7,1002.8 238.0,1002.8 239.7,1145.5 240.0,1145.5 241.7,1002.8 242.0,1002.8 243.7,1055.5 244.0,1055.5 245.7,1002.8 246.0,1002.8 247.7,1055.5 248.0,1055.5 249.7,1002.8 262.0,1002.8 263.7,965.4 273.0,965.4 274.7,936.4 291.6,936.4 293.3,912.8 297.0,912.8 298.7,892.7 298.7,892.7 300.4,912.8 300.4,912.8 302.0,892.7 310.0,892.7 311.7,875.4 320.0,875.4 321.7,860.1 324.0,860.1 325.7,875.4 331.0,875.4 332.7,860.1 340.0,860.1 341.7,846.4 353.0,846.4 354.7,834.0 367.0,834.0 368.7,822.7 369.0,822.7 370.7,834.0 374.0,834.0 375.7,822.7 376.0,822.7 377.7,834.0 380.0,834.0 381.7,822.7 382.0,822.7 383.7,834.0 392.0,834.0 416.0,834.0 430.0,834.0 440.0,812.0 450.0,792.0 460.0,766.0 468.0,746.0 476.0,720.0 484.0,700.0 492.0,686.0 500.0,674.0 508.0,658.0 516.0,642.0 524.0,626.0 532.0,614.0 540.0,611.0 552.0,606.0 560.0,604.0 568.0,602.0 582.0,600.0 588.0,612.0 594.0,608.0 600.0,620.0 604.0,634.0 610.0,646.0 614.0,660.0 620.0,676.0 626.0,690.0 634.5,720.0 642.0,735.0 649.5,757.5 654.0,772.5 660.0,783.0 667.5,787.5 672.0,806.0 676.0,796.0 684.0,794.0 690.0,798.0 696.0,800.0 702.0,794.0 714.0,792.0 722.0,778.0 730.0,786.0 734.0,770.0 742.0,768.0 750.0,772.0 758.0,760.0 766.0,756.0 774.0,754.0 786.0,752.0 800.0,752.0 801.7,1200.0 800.0,1200.0 782.4,1200.0 780.7,1055.5 780.7,1055.5 779.0,1200.0 775.4,1200.0 773.7,1055.5 773.7,1055.5 772.0,1200.0 768.4,1200.0 766.7,1055.5 766.7,1055.5 765.0,1200.0 760.4,1200.0 758.7,1055.5 758.7,1055.5 757.0,1200.0 623.7,1200.0 622.0,1055.5 603.7,1055.5 602.0,1002.8 601.7,1002.8 600.0,965.4 594.4,965.4 592.7,1002.8 592.7,1002.8 591.0,965.4 589.4,965.4 587.7,1002.8 587.7,1002.8 586.0,965.4 583.4,965.4 581.7,1002.8 581.7,1002.8 580.0,965.4 577.4,965.4 575.7,1002.8 575.7,1002.8 574.0,965.4 568.4,965.4 566.7,936.4 566.7,936.4 565.0,965.4 549.4,965.4 547.7,1002.8 547.7,1002.8 546.0,965.4 543.4,965.4 541.7,1002.8 541.7,1002.8 540.0,965.4 537.4,965.4 535.7,1002.8 535.7,1002.8 534.0,965.4 531.4,965.4 529.7,1002.8 529.7,1002.8 528.0,965.4 527.2,965.4 525.5,1002.8 525.5,1002.8 523.9,965.4 523.9,965.4 522.2,1002.8 522.2,1002.8 520.5,1055.5 502.7,1055.5 501.0,1200.0 40.0,1200.0" fill="#1f77b4" fill-opacity="0.1" stroke="#1f77b4" stroke-opacity="0.1" stroke-width="1"/>
<polygon points="40.0,1200.0 108.8,1200.0 110.4,1055.5 121.8,1055.5 123.4,1002.8 147.5,1002.8 149.2,1055.5 220.0,1055.5 221.7,1200.0 242.5,1200.0 244.2,1055.5 268.0,1055.5 269.7,1002.8 286.0,1002.8 287.7,965.4 301.0,965.4 302.7,936.4 315.6,936.4 317.3,912.8 340.0,912.8 341.7,892.7 354.0,892.7 355.7,875.4 374.0,875.4 375.7,860.1 376.0,860.1 377.7,875.4 405.0,875.4 406.7,860.1 425.0,860.1 426.7,846.4 445.0,846.4 450.0,840.0 460.0,816.0 468.0,796.0 476.0,776.0 484.0,756.0 492.0,730.0 500.0,714.0 508.0,700.0 516.0,686.0 524.0,670.0 532.0,658.0 540.0,650.0 552.0,646.0 560.0,642.0 568.0,638.0 576.0,636.0 584.0,644.0 592.0,652.0 598.0,666.0 606.0,680.0 612.0,696.0 620.0,720.0 630.0,739.5 637.5,762.0 645.0,786.0 652.5,804.0 657.0,819.0 660.0,828.0 666.0,834.0 672.0,844.0 700.0,846.0 706.0,834.0 714.0,830.0 734.0,824.0 742.0,816.0 750.0,816.0 762.0,814.0 770.0,804.0 786.0,800.0 800.0,800.0 801.7,1200.0 800.0,1200.0 784.9,1200.0 783.2,1055.5 783.2,1055.5 781.5,1200.0 781.4,1200.0 779.7,1055.5 779.7,1055.5 778.0,1200.0 777.4,1200.0 775.7,1055.5 775.7,1055.5 774.0,1200.0 773.9,1200.0 772.2,1055.5 772.2,1055.5 770.5,1200.0 770.4,1200.0 768.7,1055.5 768.7,1055.5 767.0,1200.0 766.4,1200.0 764.7,1055.5 764.7,1055.5 763.0,1200.0 762.9,1200.0 761.2,1055.5 761.2,1055.5 759.5,1200.0 758.4,1200.0 756.7,1055.5 756.7,1055.5 755.0,1200.0 652.7,1200.0 651.0,1055.5 635.7,1055.5 634.0,1002.8 623.7,1002.8 622.0,965.4 615.7,965.4 614.0,936.4 608.7,936.4 607.0,912.8 601.7,912.8 600.0,892.7 593.7,892.7 592.0,875.4 586.7,875.4 585.0,860.1 546.7,860.1 545.0,875.4 526.7,875.4 525.0,892.7 516.7,892.7 515.0,912.8 508.7,912.8 507.0,936.4 500.7,936.4 499.0,965.4 492.7,965.4 491.0,1002.8 476.7,1002.8 475.0,1055.5 463.7,1055.5 462.0,1200.0 40.0,1200.0" fill="#1f77b4" fill-opacity="0.1" stroke="#1f77b4" stroke-opacity="0.1" stroke-width="1"/>
<polygon points="40.0,1200.0 120.0,1200.0 121.7,1055.5 152.5,1055.5 154.2,1200.0 267.0,1200.0 268.7,1055.5 293.0,1055.5 294.7,1002.8 309.0,1002.8 310.7,965.4 341.0,965.4 342.7,936.4 370.0,936.4 371.7,912.8 420.0,912.8 421.7,892.7 440.0,892.7 441.7,875.4 455.0,875.4 456.7,860.1 462.0,860.1 463.7,846.4 468.0,840.0 476.0,820.0 484.0,800.0 492.0,784.0 500.0,764.0 508.0,740.0 516.0,724.0 524.0,706.0 532.0,695.0 540.0,692.0 548.0,690.0 556.0,688.0 564.0,686.0 572.0,684.0 578.0,682.0 586.0,692.0 594.0,700.0 598.0,712.0 604.0,730.0 610.0,742.0 618.0,752.0 622.5,765.0 630.0,792.0 637.5,814.5 645.0,840.0 651.0,849.0 655.5,870.0 660.0,876.0 666.0,891.0 714.0,892.0 716.0,876.0 736.0,874.0 742.0,864.0 774.0,860.0 778.0,848.0 786.0,846.0 800.0,846.0 801.7,1002.8 800.0,1002.8 695.2,1002.8 693.5,1055.5 667.7,1055.5 666.0,1002.8 646.2,1002.8 644.5,965.4 636.7,965.4 635.0,936.4 630.7,936.4 629.0,912.8 625.7,912.8 624.0,892.7 620.7,892.7 619.0,875.4 615.7,875.4 614.0,860.1 606.0,860.1 601.0,846.4 598.0,840.0 594.0,820.0 590.0,812.0 582.0,802.0 570.0,800.0 560.0,804.0 552.0,804.0 540.0,820.0 526.7,822.7 525.0,846.4 511.7,846.4 510.0,860.1 501.7,860.1 500.0,875.4 493.7,875.4 492.0,892.7 485.7,892.7 484.0,912.8 478.7,912.8 477.0,936.4 471.7,936.4 470.0,965.4 464.7,965.4 463.0,1002.8 451.7,1002.8 450.0,1055.5 436.7,1055.5 435.0,1200.0 40.0,1200.0" fill="#1f77b4" fill-opacity="0.1" stroke="#1f77b4" stroke-opacity="0.1" stroke-width="1"/>
<line x1="50.5" x2="785.5" y1="846.50" y2="846.50" stroke="#b0b0b0" stroke-width="1.0"/>
<polyline points="40.0,1150.0 293.6,1150.0 295.3,1055.5 296.9,1150.0 298.6,1055.5 330.5,1055.5 332.1,1002.8 334.6,1055.5 337.2,1002.8 440.0,1002.8 441.2,965.5 451.2,960.0 453.0,936.2 455.0,945.0 458.8,936.5 461.2,912.8 467.5,912.8 470.0,892.8 473.8,875.4 478.8,862.5 481.2,860.0 482.5,867.5 484.0,860.0 487.0,846.0 490.0,846.0 492.0,824.0 494.0,832.0 495.6,822.0 497.6,832.0 499.6,822.0 502.0,822.0 505.0,812.0 508.0,802.0 511.0,802.0 513.0,794.0 516.0,792.0 518.0,788.0 520.0,782.0 522.0,772.0 524.4,769.0 527.0,770.0 529.0,763.0 531.0,768.0 533.0,764.0 536.0,757.0 540.0,756.0 544.0,750.0 549.0,749.0 555.0,749.0 558.0,743.0 561.0,739.0 563.0,742.0 565.0,738.0 568.0,743.0 571.0,732.0 574.0,738.0 577.0,732.0 580.0,737.0 583.0,738.0 585.0,742.0 589.0,743.0 591.0,755.0 593.0,749.0 595.0,757.0 598.0,768.0 600.0,769.0 602.0,773.0 603.0,770.0 605.0,776.0 607.0,786.0 609.0,793.0 610.0,786.0 613.0,799.0 616.0,802.0 619.0,820.0 621.0,812.0 623.0,822.0 625.0,824.0 627.0,836.0 629.0,850.0 631.0,860.0 634.0,874.0 640.0,875.0 644.0,894.0 646.0,911.0 650.0,912.0 652.0,936.0 666.0,936.0 667.0,965.0 686.0,965.0 689.0,936.0 691.0,965.0 699.0,965.0 700.0,936.0 702.0,965.0 709.0,965.0 711.0,950.0 713.0,965.0 715.0,936.0 752.0,936.0 754.0,912.0 756.0,922.0 758.0,912.0 762.0,912.0 763.0,936.0 766.0,912.0 790.0,912.0" fill="none" stroke="#1f77b4" stroke-width="2.08" stroke-linejoin="round"/>
<circle cx="94.1" cy="1145.5" r="4.85" fill="#ff7f0e"/>
<circle cx="97.5" cy="1145.5" r="4.85" fill="#ff7f0e"/>
<circle cx="100.9" cy="1145.5" r="4.85" fill="#ff7f0e"/>
<circle cx="104.2" cy="1145.5" r="4.85" fill="#ff7f0e"/>
<circle cx="107.6" cy="1145.5" r="4.85" fill="#ff7f0e"/>
<circle cx="110.9" cy="1145.5" r="4.85" fill="#ff7f0e"/>
<circle cx="114.3" cy="1145.5" r="4.85" fill="#ff7f0e"/>
<circle cx="117.6" cy="1145.5" r="4.85" fill="#ff7f0e"/>
<circle cx="121.0" cy="1145.5" r="4.85" fill="#ff7f0e"/>
<circle cx="124.3" cy="1145.5" r="4.85" fill="#ff7f0e"/>
<circle cx="131.0" cy="1145.5" r="4.85" fill="#ff7f0e"/>
<circle cx="136.0" cy="1145.5" r="4.85" fill="#ff7f0e"/>
<circle cx="156.2" cy="1145.5" r="4.85" fill="#ff7f0e"/>
<circle cx="159.5" cy="1145.5" r="4.85" fill="#ff7f0e"/>
<circle cx="174.6" cy="1145.5" r="4.85" fill="#ff7f0e"/>
<circle cx="177.9" cy="1145.5" r="4.85" fill="#ff7f0e"/>
<circle cx="183.0" cy="1145.5" r="4.85" fill="#ff7f0e"/>
<circle cx="194.7" cy="1145.5" r="4.85" fill="#ff7f0e"/>
<circle cx="199.7" cy="1145.5" r="4.85" fill="#ff7f0e"/>
<circle cx="203.1" cy="1145.5" r="4.85" fill="#ff7f0e"/>
<circle cx="206.4" cy="1145.5" r="4.85" fill="#ff7f0e"/>
<circle cx="213.1" cy="1145.5" r="4.85" fill="#ff7f0e"/>
<circle cx="218.2" cy="1145.5" r="4.85" fill="#ff7f0e"/>
<circle cx="233.2" cy="1145.5" r="4.85" fill="#ff7f0e"/>
<circle cx="243.3" cy="1145.5" r="4.85" fill="#ff7f0e"/>
<circle cx="255.0" cy="1145.5" r="4.85" fill="#ff7f0e"/>
<circle cx="258.4" cy="1145.5" r="4.85" fill="#ff7f0e"/>
<circle cx="266.8" cy="1145.5" r="4.85" fill="#ff7f0e"/>
<circle cx="271.8" cy="1145.5" r="4.85" fill="#ff7f0e"/>
<circle cx="276.8" cy="1145.5" r="4.85" fill="#ff7f0e"/>
<circle cx="281.8" cy="1145.5" r="4.85" fill="#ff7f0e"/>
<circle cx="288.6" cy="1145.5" r="4.85" fill="#ff7f0e"/>
<circle cx="295.3" cy="1145.5" r="4.85" fill="#ff7f0e"/>
<circle cx="302.0" cy="1145.5" r="4.85" fill="#ff7f0e"/>
<circle cx="333.8" cy="1145.5" r="4.85" fill="#ff7f0e"/>
<circle cx="352.2" cy="1145.5" r="4.85" fill="#ff7f0e"/>
<circle cx="360.6" cy="1145.5" r="4.85" fill="#ff7f0e"/>
<circle cx="374.0" cy="1145.5" r="4.85" fill="#ff7f0e"/>
<circle cx="387.4" cy="1145.5" r="4.85" fill="#ff7f0e"/>
<circle cx="409.2" cy="1145.5" r="4.85" fill="#ff7f0e"/>
<circle cx="415.9" cy="1145.5" r="4.85" fill="#ff7f0e"/>
<circle cx="429.3" cy="1145.5" r="4.85" fill="#ff7f0e"/>
<circle cx="434.4" cy="1145.5" r="4.85" fill="#ff7f0e"/>
<circle cx="444.4" cy="1145.5" r="4.85" fill="#ff7f0e"/>
<circle cx="446.1" cy="1145.5" r="4.85" fill="#ff7f0e"/>
<circle cx="454.5" cy="1145.5" r="4.85" fill="#ff7f0e"/>
<circle cx="459.5" cy="1145.5" r="4.85" fill="#ff7f0e"/>
<circle cx="467.9" cy="1145.5" r="4.85" fill="#ff7f0e"/>
<circle cx="115.9" cy="1055.5" r="4.85" fill="#ff7f0e"/>
<circle cx="122.6" cy="1055.5" r="4.85" fill="#ff7f0e"/>
<circle cx="127.7" cy="1055.5" r="4.85" fill="#ff7f0e"/>
<circle cx="131.0" cy="1055.5" r="4.85" fill="#ff7f0e"/>
<circle cx="139.4" cy="1055.5" r="4.85" fill="#ff7f0e"/>
<circle cx="149.5" cy="1055.5" r="4.85" fill="#ff7f0e"/>
<circle cx="156.2" cy="1055.5" r="4.85" fill="#ff7f0e"/>
<circle cx="162.9" cy="1055.5" r="4.85" fill="#ff7f0e"/>
<circle cx="169.6" cy="1055.5" r="4.85" fill="#ff7f0e"/>
<circle cx="183.0" cy="1055.5" r="4.85" fill="#ff7f0e"/>
<circle cx="191.4" cy="1055.5" r="4.85" fill="#ff7f0e"/>
<circle cx="201.4" cy="1055.5" r="4.85" fill="#ff7f0e"/>
<circle cx="218.2" cy="1055.5" r="4.85" fill="#ff7f0e"/>
<circle cx="317.0" cy="1055.5" r="4.85" fill="#ff7f0e"/>
<circle cx="330.5" cy="1055.5" r="4.85" fill="#ff7f0e"/>
<circle cx="338.8" cy="1055.5" r="4.85" fill="#ff7f0e"/>
<circle cx="372.3" cy="1055.5" r="4.85" fill="#ff7f0e"/>
<circle cx="390.8" cy="1055.5" r="4.85" fill="#ff7f0e"/>
<circle cx="397.5" cy="1055.5" r="4.85" fill="#ff7f0e"/>
<circle cx="407.5" cy="1055.5" r="4.85" fill="#ff7f0e"/>
<circle cx="424.3" cy="1055.5" r="4.85" fill="#ff7f0e"/>
<circle cx="429.3" cy="1055.5" r="4.85" fill="#ff7f0e"/>
<circle cx="474.6" cy="1055.5" r="4.85" fill="#ff7f0e"/>
<circle cx="146.1" cy="1002.8" r="4.85" fill="#ff7f0e"/>
<circle cx="174.6" cy="1002.8" r="4.85" fill="#ff7f0e"/>
<circle cx="236.6" cy="1002.8" r="4.85" fill="#ff7f0e"/>
<circle cx="296.9" cy="1002.8" r="4.85" fill="#ff7f0e"/>
<circle cx="312.0" cy="1002.8" r="4.85" fill="#ff7f0e"/>
<circle cx="325.4" cy="1002.8" r="4.85" fill="#ff7f0e"/>
<circle cx="343.9" cy="1002.8" r="4.85" fill="#ff7f0e"/>
<circle cx="347.2" cy="1002.8" r="4.85" fill="#ff7f0e"/>
<circle cx="360.6" cy="1002.8" r="4.85" fill="#ff7f0e"/>
<circle cx="365.6" cy="1002.8" r="4.85" fill="#ff7f0e"/>
<circle cx="370.7" cy="1002.8" r="4.85" fill="#ff7f0e"/>
<circle cx="380.7" cy="1002.8" r="4.85" fill="#ff7f0e"/>
<circle cx="385.8" cy="1002.8" r="4.85" fill="#ff7f0e"/>
<circle cx="399.2" cy="1002.8" r="4.85" fill="#ff7f0e"/>
<circle cx="412.6" cy="1002.8" r="4.85" fill="#ff7f0e"/>
<circle cx="422.6" cy="1002.8" r="4.85" fill="#ff7f0e"/>
<circle cx="427.7" cy="1002.8" r="4.85" fill="#ff7f0e"/>
<circle cx="431.0" cy="1002.8" r="4.85" fill="#ff7f0e"/>
<circle cx="439.4" cy="1002.8" r="4.85" fill="#ff7f0e"/>
<circle cx="461.2" cy="1002.8" r="4.85" fill="#ff7f0e"/>
<circle cx="481.3" cy="1002.8" r="4.85" fill="#ff7f0e"/>
<circle cx="516.5" cy="1002.8" r="4.85" fill="#ff7f0e"/>
<circle cx="622.1" cy="1002.8" r="4.85" fill="#ff7f0e"/>
<circle cx="124.3" cy="965.4" r="4.85" fill="#ff7f0e"/>
<circle cx="134.4" cy="965.4" r="4.85" fill="#ff7f0e"/>
<circle cx="142.7" cy="965.4" r="4.85" fill="#ff7f0e"/>
<circle cx="166.2" cy="965.4" r="4.85" fill="#ff7f0e"/>
<circle cx="171.2" cy="965.4" r="4.85" fill="#ff7f0e"/>
<circle cx="295.3" cy="965.4" r="4.85" fill="#ff7f0e"/>
<circle cx="300.3" cy="965.4" r="4.85" fill="#ff7f0e"/>
<circle cx="313.7" cy="965.4" r="4.85" fill="#ff7f0e"/>
<circle cx="323.7" cy="965.4" r="4.85" fill="#ff7f0e"/>
<circle cx="332.1" cy="965.4" r="4.85" fill="#ff7f0e"/>
<circle cx="337.2" cy="965.4" r="4.85" fill="#ff7f0e"/>
<circle cx="365.6" cy="965.4" r="4.85" fill="#ff7f0e"/>
<circle cx="380.7" cy="965.4" r="4.85" fill="#ff7f0e"/>
<circle cx="404.2" cy="965.4" r="4.85" fill="#ff7f0e"/>
<circle cx="441.1" cy="965.4" r="4.85" fill="#ff7f0e"/>
<circle cx="449.4" cy="965.4" r="4.85" fill="#ff7f0e"/>
<circle cx="491.3" cy="965.4" r="4.85" fill="#ff7f0e"/>
<circle cx="528.2" cy="965.4" r="4.85" fill="#ff7f0e"/>
<circle cx="539.9" cy="965.4" r="4.85" fill="#ff7f0e"/>
<circle cx="550.0" cy="965.4" r="4.85" fill="#ff7f0e"/>
<circle cx="147.8" cy="936.4" r="4.85" fill="#ff7f0e"/>
<circle cx="206.4" cy="936.4" r="4.85" fill="#ff7f0e"/>
<circle cx="358.9" cy="936.4" r="4.85" fill="#ff7f0e"/>
<circle cx="377.4" cy="936.4" r="4.85" fill="#ff7f0e"/>
<circle cx="389.1" cy="936.4" r="4.85" fill="#ff7f0e"/>
<circle cx="402.5" cy="936.4" r="4.85" fill="#ff7f0e"/>
<circle cx="414.2" cy="936.4" r="4.85" fill="#ff7f0e"/>
<circle cx="419.3" cy="936.4" r="4.85" fill="#ff7f0e"/>
<circle cx="493.0" cy="936.4" r="4.85" fill="#ff7f0e"/>
<circle cx="612.0" cy="936.4" r="4.85" fill="#ff7f0e"/>
<circle cx="129.3" cy="912.8" r="4.85" fill="#ff7f0e"/>
<circle cx="320.4" cy="912.8" r="4.85" fill="#ff7f0e"/>
<circle cx="337.2" cy="912.8" r="4.85" fill="#ff7f0e"/>
<circle cx="370.7" cy="912.8" r="4.85" fill="#ff7f0e"/>
<circle cx="392.5" cy="912.8" r="4.85" fill="#ff7f0e"/>
<circle cx="417.6" cy="912.8" r="4.85" fill="#ff7f0e"/>
<circle cx="439.4" cy="912.8" r="4.85" fill="#ff7f0e"/>
<circle cx="454.5" cy="912.8" r="4.85" fill="#ff7f0e"/>
<circle cx="501.4" cy="912.8" r="4.85" fill="#ff7f0e"/>
<circle cx="506.4" cy="912.8" r="4.85" fill="#ff7f0e"/>
<circle cx="610.3" cy="912.8" r="4.85" fill="#ff7f0e"/>
<circle cx="307.0" cy="892.7" r="4.85" fill="#ff7f0e"/>
<circle cx="357.3" cy="892.7" r="4.85" fill="#ff7f0e"/>
<circle cx="394.1" cy="892.7" r="4.85" fill="#ff7f0e"/>
<circle cx="451.1" cy="892.7" r="4.85" fill="#ff7f0e"/>
<circle cx="464.5" cy="892.7" r="4.85" fill="#ff7f0e"/>
<circle cx="474.6" cy="892.7" r="4.85" fill="#ff7f0e"/>
<circle cx="561.7" cy="892.7" r="4.85" fill="#ff7f0e"/>
<circle cx="600.3" cy="892.7" r="4.85" fill="#ff7f0e"/>
<circle cx="315.4" cy="875.4" r="4.85" fill="#ff7f0e"/>
<circle cx="342.2" cy="875.4" r="4.85" fill="#ff7f0e"/>
<circle cx="345.5" cy="875.4" r="4.85" fill="#ff7f0e"/>
<circle cx="400.8" cy="875.4" r="4.85" fill="#ff7f0e"/>
<circle cx="447.8" cy="875.4" r="4.85" fill="#ff7f0e"/>
<circle cx="454.5" cy="875.4" r="4.85" fill="#ff7f0e"/>
<circle cx="462.8" cy="875.4" r="4.85" fill="#ff7f0e"/>
<circle cx="481.3" cy="875.4" r="4.85" fill="#ff7f0e"/>
<circle cx="355.6" cy="860.1" r="4.85" fill="#ff7f0e"/>
<circle cx="436.0" cy="860.1" r="4.85" fill="#ff7f0e"/>
<circle cx="477.9" cy="860.1" r="4.85" fill="#ff7f0e"/>
<circle cx="514.8" cy="860.1" r="4.85" fill="#ff7f0e"/>
<circle cx="538.3" cy="860.1" r="4.85" fill="#ff7f0e"/>
<circle cx="548.3" cy="860.1" r="4.85" fill="#ff7f0e"/>
<circle cx="379.1" cy="846.4" r="4.85" fill="#ff7f0e"/>
<circle cx="375.7" cy="834.0" r="4.85" fill="#ff7f0e"/>
<circle cx="384.1" cy="834.0" r="4.85" fill="#ff7f0e"/>
<circle cx="348.9" cy="802.7" r="4.85" fill="#ff7f0e"/>
<circle cx="470.4" cy="722.4" r="4.85" fill="#ff7f0e"/>
<circle cx="506.0" cy="738.0" r="4.85" fill="#ff7f0e"/>
<circle cx="490.0" cy="762.4" r="4.85" fill="#ff7f0e"/>
<circle cx="471.0" cy="785.6" r="4.85" fill="#ff7f0e"/>
<circle cx="488.0" cy="785.6" r="4.85" fill="#ff7f0e"/>
<circle cx="498.4" cy="777.0" r="4.85" fill="#ff7f0e"/>
<circle cx="495.4" cy="793.4" r="4.85" fill="#ff7f0e"/>
<circle cx="466.4" cy="802.4" r="4.85" fill="#ff7f0e"/>
<circle cx="485.4" cy="802.4" r="4.85" fill="#ff7f0e"/>
<circle cx="483.4" cy="812.4" r="4.85" fill="#ff7f0e"/>
<circle cx="496.4" cy="812.4" r="4.85" fill="#ff7f0e"/>
<circle cx="486.4" cy="833.0" r="4.85" fill="#ff7f0e"/>
<circle cx="503.0" cy="833.0" r="4.85" fill="#ff7f0e"/>
<circle cx="511.0" cy="833.0" r="4.85" fill="#ff7f0e"/>
<circle cx="528.4" cy="822.0" r="4.85" fill="#ff7f0e"/>
<circle cx="508.4" cy="756.0" r="4.85" fill="#ff7f0e"/>
<circle cx="522.4" cy="756.0" r="4.85" fill="#ff7f0e"/>
<circle cx="523.4" cy="777.0" r="4.85" fill="#ff7f0e"/>
<circle cx="535.4" cy="743.0" r="4.85" fill="#ff7f0e"/>
<circle cx="512.0" cy="703.0" r="4.85" fill="#ff7f0e"/>
<circle cx="520.0" cy="699.0" r="4.85" fill="#ff7f0e"/>
<circle cx="518.0" cy="707.0" r="4.85" fill="#ff7f0e"/>
<circle cx="526.0" cy="703.0" r="4.85" fill="#ff7f0e"/>
<circle cx="532.0" cy="707.0" r="4.85" fill="#ff7f0e"/>
<circle cx="530.4" cy="679.0" r="4.85" fill="#ff7f0e"/>
<circle cx="534.0" cy="687.0" r="4.85" fill="#ff7f0e"/>
<circle cx="538.0" cy="687.0" r="4.85" fill="#ff7f0e"/>
<circle cx="565.4" cy="637.4" r="4.85" fill="#ff7f0e"/>
<circle cx="543.0" cy="650.0" r="4.85" fill="#ff7f0e"/>
<circle cx="567.4" cy="656.0" r="4.85" fill="#ff7f0e"/>
<circle cx="577.4" cy="656.0" r="4.85" fill="#ff7f0e"/>
<circle cx="569.4" cy="662.4" r="4.85" fill="#ff7f0e"/>
<circle cx="579.4" cy="666.4" r="4.85" fill="#ff7f0e"/>
<circle cx="570.4" cy="669.4" r="4.85" fill="#ff7f0e"/>
<circle cx="545.4" cy="676.4" r="4.85" fill="#ff7f0e"/>
<circle cx="555.4" cy="676.4" r="4.85" fill="#ff7f0e"/>
<circle cx="581.0" cy="687.4" r="4.85" fill="#ff7f0e"/>
<circle cx="589.0" cy="687.4" r="4.85" fill="#ff7f0e"/>
<circle cx="584.4" cy="699.4" r="4.85" fill="#ff7f0e"/>
<circle cx="601.0" cy="695.4" r="4.85" fill="#ff7f0e"/>
<circle cx="605.0" cy="695.4" r="4.85" fill="#ff7f0e"/>
<circle cx="614.4" cy="712.4" r="4.85" fill="#ff7f0e"/>
<circle cx="626.4" cy="722.4" r="4.85" fill="#ff7f0e"/>
<circle cx="543.6" cy="722.4" r="4.85" fill="#ff7f0e"/>
<circle cx="558.4" cy="717.4" r="4.85" fill="#ff7f0e"/>
<circle cx="597.4" cy="722.4" r="4.85" fill="#ff7f0e"/>
<circle cx="602.4" cy="717.4" r="4.85" fill="#ff7f0e"/>
<circle cx="605.4" cy="727.4" r="4.85" fill="#ff7f0e"/>
<circle cx="552.0" cy="732.4" r="4.85" fill="#ff7f0e"/>
<circle cx="558.0" cy="732.4" r="4.85" fill="#ff7f0e"/>
<circle cx="565.0" cy="732.4" r="4.85" fill="#ff7f0e"/>
<circle cx="590.4" cy="732.4" r="4.85" fill="#ff7f0e"/>
<circle cx="547.6" cy="743.0" r="4.85" fill="#ff7f0e"/>
<circle cx="616.4" cy="738.0" r="4.85" fill="#ff7f0e"/>
<circle cx="617.0" cy="749.0" r="4.85" fill="#ff7f0e"/>
<circle cx="620.0" cy="756.0" r="4.85" fill="#ff7f0e"/>
<circle cx="625.0" cy="756.0" r="4.85" fill="#ff7f0e"/>
<circle cx="572.4" cy="762.0" r="4.85" fill="#ff7f0e"/>
<circle cx="585.4" cy="769.4" r="4.85" fill="#ff7f0e"/>
<circle cx="595.4" cy="762.4" r="4.85" fill="#ff7f0e"/>
<circle cx="560.0" cy="785.4" r="4.85" fill="#ff7f0e"/>
<circle cx="592.4" cy="785.4" r="4.85" fill="#ff7f0e"/>
<circle cx="575.0" cy="793.0" r="4.85" fill="#ff7f0e"/>
<circle cx="684.4" cy="769.4" r="4.85" fill="#ff7f0e"/>
<circle cx="683.4" cy="802.4" r="4.85" fill="#ff7f0e"/>
<circle cx="629.4" cy="802.4" r="4.85" fill="#ff7f0e"/>
<circle cx="627.4" cy="812.4" r="4.85" fill="#ff7f0e"/>
<circle cx="552.4" cy="822.0" r="4.85" fill="#ff7f0e"/>
<circle cx="641.4" cy="822.0" r="4.85" fill="#ff7f0e"/>
<circle cx="587.4" cy="833.0" r="4.85" fill="#ff7f0e"/>
<circle cx="606.0" cy="833.0" r="4.85" fill="#ff7f0e"/>
<circle cx="610.0" cy="833.0" r="4.85" fill="#ff7f0e"/>
<circle cx="621.4" cy="833.0" r="4.85" fill="#ff7f0e"/>
<circle cx="639.4" cy="833.0" r="4.85" fill="#ff7f0e"/>
<circle cx="647.0" cy="833.0" r="4.85" fill="#ff7f0e"/>
<circle cx="650.0" cy="833.0" r="4.85" fill="#ff7f0e"/>
<circle cx="732.7" cy="802.7" r="4.85" fill="#ff7f0e"/>
<circle cx="777.9" cy="802.7" r="4.85" fill="#ff7f0e"/>
<circle cx="720.9" cy="812.3" r="4.85" fill="#ff7f0e"/>
<circle cx="767.9" cy="822.7" r="4.85" fill="#ff7f0e"/>
<circle cx="720.9" cy="834.0" r="4.85" fill="#ff7f0e"/>
<circle cx="756.1" cy="834.0" r="4.85" fill="#ff7f0e"/>
<circle cx="679.0" cy="846.4" r="4.85" fill="#ff7f0e"/>
<circle cx="632.1" cy="860.1" r="4.85" fill="#ff7f0e"/>
<circle cx="637.1" cy="860.1" r="4.85" fill="#ff7f0e"/>
<circle cx="689.1" cy="860.1" r="4.85" fill="#ff7f0e"/>
<circle cx="717.6" cy="860.1" r="4.85" fill="#ff7f0e"/>
<circle cx="742.7" cy="860.1" r="4.85" fill="#ff7f0e"/>
<circle cx="764.5" cy="860.1" r="4.85" fill="#ff7f0e"/>
<circle cx="664.0" cy="875.4" r="4.85" fill="#ff7f0e"/>
<circle cx="674.0" cy="875.4" r="4.85" fill="#ff7f0e"/>
<circle cx="643.8" cy="892.7" r="4.85" fill="#ff7f0e"/>
<circle cx="660.6" cy="892.7" r="4.85" fill="#ff7f0e"/>
<circle cx="675.7" cy="892.7" r="4.85" fill="#ff7f0e"/>
<circle cx="679.0" cy="892.7" r="4.85" fill="#ff7f0e"/>
<circle cx="731.0" cy="892.7" r="4.85" fill="#ff7f0e"/>
<circle cx="762.8" cy="892.7" r="4.85" fill="#ff7f0e"/>
<circle cx="772.9" cy="892.7" r="4.85" fill="#ff7f0e"/>
<circle cx="642.2" cy="912.8" r="4.85" fill="#ff7f0e"/>
<circle cx="709.2" cy="912.8" r="4.85" fill="#ff7f0e"/>
<circle cx="746.1" cy="912.8" r="4.85" fill="#ff7f0e"/>
<circle cx="767.9" cy="912.8" r="4.85" fill="#ff7f0e"/>
<circle cx="771.2" cy="912.8" r="4.85" fill="#ff7f0e"/>
<circle cx="653.9" cy="936.4" r="4.85" fill="#ff7f0e"/>
<circle cx="689.1" cy="936.4" r="4.85" fill="#ff7f0e"/>
<circle cx="694.1" cy="936.4" r="4.85" fill="#ff7f0e"/>
<circle cx="697.5" cy="936.4" r="4.85" fill="#ff7f0e"/>
<circle cx="757.8" cy="936.4" r="4.85" fill="#ff7f0e"/>
<circle cx="776.2" cy="936.4" r="4.85" fill="#ff7f0e"/>
<circle cx="781.3" cy="936.4" r="4.85" fill="#ff7f0e"/>
<circle cx="637.1" cy="965.4" r="4.85" fill="#ff7f0e"/>
<circle cx="650.5" cy="965.4" r="4.85" fill="#ff7f0e"/>
<circle cx="665.6" cy="965.4" r="4.85" fill="#ff7f0e"/>
<circle cx="685.7" cy="965.4" r="4.85" fill="#ff7f0e"/>
<circle cx="699.1" cy="965.4" r="4.85" fill="#ff7f0e"/>
<circle cx="710.9" cy="965.4" r="4.85" fill="#ff7f0e"/>
<circle cx="714.2" cy="965.4" r="4.85" fill="#ff7f0e"/>
<circle cx="782.9" cy="965.4" r="4.85" fill="#ff7f0e"/>
<circle cx="674.0" cy="1002.8" r="4.85" fill="#ff7f0e"/>
<circle cx="699.1" cy="1002.8" r="4.85" fill="#ff7f0e"/>
<circle cx="705.9" cy="1002.8" r="4.85" fill="#ff7f0e"/>
<circle cx="726.0" cy="1002.8" r="4.85" fill="#ff7f0e"/>
<circle cx="734.3" cy="1002.8" r="4.85" fill="#ff7f0e"/>
<circle cx="746.1" cy="1002.8" r="4.85" fill="#ff7f0e"/>
<circle cx="754.5" cy="1002.8" r="4.85" fill="#ff7f0e"/>
<circle cx="774.6" cy="1002.8" r="4.85" fill="#ff7f0e"/>
<circle cx="781.3" cy="1002.8" r="4.85" fill="#ff7f0e"/>
<circle cx="632.1" cy="1055.5" r="4.85" fill="#ff7f0e"/>
<circle cx="635.5" cy="1055.5" r="4.85" fill="#ff7f0e"/>
<circle cx="647.2" cy="1055.5" r="4.85" fill="#ff7f0e"/>
<circle cx="657.3" cy="1055.5" r="4.85" fill="#ff7f0e"/>
<circle cx="700.8" cy="1055.5" r="4.85" fill="#ff7f0e"/>
<circle cx="704.2" cy="1055.5" r="4.85" fill="#ff7f0e"/>
<circle cx="741.0" cy="1055.5" r="4.85" fill="#ff7f0e"/>
<circle cx="747.7" cy="1055.5" r="4.85" fill="#ff7f0e"/>
<circle cx="751.1" cy="1055.5" r="4.85" fill="#ff7f0e"/>
<circle cx="667.3" cy="1145.5" r="4.85" fill="#ff7f0e"/>
<circle cx="705.9" cy="1145.5" r="4.85" fill="#ff7f0e"/>
<circle cx="709.2" cy="1145.5" r="4.85" fill="#ff7f0e"/>
<circle cx="726.0" cy="1145.5" r="4.85" fill="#ff7f0e"/>
<circle cx="756.1" cy="1145.5" r="4.85" fill="#ff7f0e"/>
<circle cx="781.3" cy="1145.5" r="4.85" fill="#ff7f0e"/>
<circle cx="459.5" cy="846.4" r="4.85" fill="#ff7f0e"/>
<circle cx="476.3" cy="846.4" r="4.85" fill="#ff7f0e"/>
<circle cx="511.4" cy="846.4" r="4.85" fill="#ff7f0e"/>
<circle cx="593.6" cy="846.4" r="4.85" fill="#ff7f0e"/>
<line x1="738" x2="738" y1="1145.5" y2="593.5" stroke="#1f77b4" stroke-opacity="0.5" stroke-width="2.08" stroke-dasharray="7.7 3.33"/>
</g>
<rect x="50.5" y="593.5" width="735.0" height="552.0" fill="none" stroke="#000" stroke-width="1.11"/>
<line x1="45.64" x2="50.5" y1="1145.50" y2="1145.50" stroke="#000" stroke-width="1.11"/>
<line x1="47.72" x2="50.5" y1="1055.50" y2="1055.50" stroke="#000" stroke-width="0.83"/>
<line x1="47.72" x2="50.5" y1="1002.50" y2="1002.50" stroke="#000" stroke-width="0.83"/>
<line x1="47.72" x2="50.5" y1="965.50" y2="965.50" stroke="#000" stroke-width="0.83"/>
<line x1="47.72" x2="50.5" y1="936.50" y2="936.50" stroke="#000" stroke-width="0.83"/>
<line x1="47.72" x2="50.5" y1="912.50" y2="912.50" stroke="#000" stroke-width="0.83"/>
<line x1="47.72" x2="50.5" y1="892.50" y2="892.50" stroke="#000" stroke-width="0.83"/>
<line x1="47.72" x2="50.5" y1="875.50" y2="875.50" stroke="#000" stroke-width="0.83"/>
<line x1="47.72" x2="50.5" y1="860.50" y2="860.50" stroke="#000" stroke-width="0.83"/>
<line x1="45.64" x2="50.5" y1="846.50" y2="846.50" stroke="#000" stroke-width="1.11"/>
<line x1="47.72" x2="50.5" y1="756.50" y2="756.50" stroke="#000" stroke-width="0.83"/>
<line x1="47.72" x2="50.5" y1="703.50" y2="703.50" stroke="#000" stroke-width="0.83"/>
<line x1="47.72" x2="50.5" y1="666.50" y2="666.50" stroke="#000" stroke-width="0.83"/>
<line x1="47.72" x2="50.5" y1="637.50" y2="637.50" stroke="#000" stroke-width="0.83"/>
<line x1="47.72" x2="50.5" y1="613.50" y2="613.50" stroke="#000" stroke-width="0.83"/>
<line x1="47.72" x2="50.5" y1="593.50" y2="593.50" stroke="#000" stroke-width="0.83"/>
<text x="17.5" y="1152.20" font-family="Liberation Sans, sans-serif" font-size="14.5" textLength="14.7" lengthAdjust="spacingAndGlyphs">10</text>
<text x="33.6" y="1147.00" font-family="Liberation Sans, sans-serif" font-size="10.4" textLength="4.9" lengthAdjust="spacingAndGlyphs">0</text>
<text x="17.5" y="853.10" font-family="Liberation Sans, sans-serif" font-size="14.5" textLength="14.7" lengthAdjust="spacingAndGlyphs">10</text>
<text x="33.6" y="847.90" font-family="Liberation Sans, sans-serif" font-size="10.4" textLength="4.9" lengthAdjust="spacingAndGlyphs">1</text>
<line x1="50.5" x2="50.5" y1="1145.5" y2="1150.36" stroke="#000" stroke-width="1.11"/>
<line x1="97.5" x2="97.5" y1="1145.5" y2="1150.36" stroke="#000" stroke-width="1.11"/>
<line x1="250.5" x2="250.5" y1="1145.5" y2="1150.36" stroke="#000" stroke-width="1.11"/>
<line x1="404.5" x2="404.5" y1="1145.5" y2="1150.36" stroke="#000" stroke-width="1.11"/>
<line x1="558.5" x2="558.5" y1="1145.5" y2="1150.36" stroke="#000" stroke-width="1.11"/>
<line x1="709.5" x2="709.5" y1="1145.5" y2="1150.36" stroke="#000" stroke-width="1.11"/>
<line x1="147.5" x2="147.5" y1="1145.5" y2="1148.28" stroke="#000" stroke-width="0.83"/>
<line x1="199.5" x2="199.5" y1="1145.5" y2="1148.28" stroke="#000" stroke-width="0.83"/>
<line x1="302.5" x2="302.5" y1="1145.5" y2="1148.28" stroke="#000" stroke-width="0.83"/>
<line x1="354.5" x2="354.5" y1="1145.5" y2="1148.28" stroke="#000" stroke-width="0.83"/>
<line x1="456.5" x2="456.5" y1="1145.5" y2="1148.28" stroke="#000" stroke-width="0.83"/>
<line x1="506.5" x2="506.5" y1="1145.5" y2="1148.28" stroke="#000" stroke-width="0.83"/>
<line x1="610.5" x2="610.5" y1="1145.5" y2="1148.28" stroke="#000" stroke-width="0.83"/>
<line x1="657.5" x2="657.5" y1="1145.5" y2="1148.28" stroke="#000" stroke-width="0.83"/>
<line x1="759.5" x2="759.5" y1="1145.5" y2="1148.28" stroke="#000" stroke-width="0.83"/>
<rect x="57.4" y="600.40" width="135.1" height="25.2" rx="2.8" fill="#fff" fill-opacity="0.8" stroke="#cccccc" stroke-width="1.11"/>
<line x1="62.4" x2="91" y1="611.70" y2="611.70" stroke="#1f77b4" stroke-width="2.08"/>
<text x="101.8" y="616.20" font-family="Liberation Sans, sans-serif" font-size="14.3" textLength="84.4" lengthAdjust="spacingAndGlyphs">daily deaths</text>
<text x="306.3" y="35.5" font-family="Liberation Sans, sans-serif" font-size="16.2" textLength="181.3" lengthAdjust="spacingAndGlyphs">West Virginia 28 days</text>
<text x="97.5" y="1165.8" font-family="Liberation Sans, sans-serif" font-size="14.3" text-anchor="middle">Apr</text>
<text x="250.5" y="1165.8" font-family="Liberation Sans, sans-serif" font-size="14.3" text-anchor="middle">Jul</text>
<text x="404.25" y="1165.8" font-family="Liberation Sans, sans-serif" font-size="14.3" text-anchor="middle">Oct</text>
<text x="558.4" y="1165.8" font-family="Liberation Sans, sans-serif" font-size="14.3" text-anchor="middle">Jan</text>
<text x="709.2" y="1165.8" font-family="Liberation Sans, sans-serif" font-size="14.3" text-anchor="middle">Apr</text>
<text x="558.4" y="1181.9" font-family="Liberation Sans, sans-serif" font-size="14.3" text-anchor="middle">2021</text>
</svg></body></html>
